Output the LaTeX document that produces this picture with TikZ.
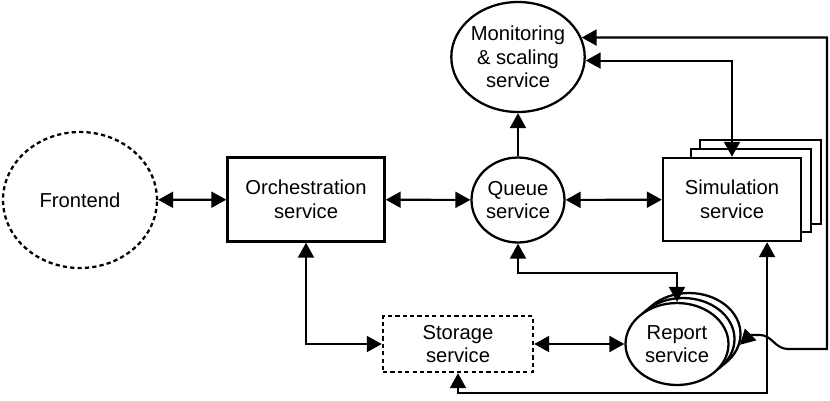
\documentclass[tikz,border=0pt]{standalone}
\usepackage{fontspec}
\setmainfont{Liberation Sans}
\usepackage{tikz}
\usetikzlibrary{shapes.geometric,arrows.meta,positioning,calc}

\begin{document}
\begin{tikzpicture}[x=0.02cm, y=-0.02cm,
    every node/.style={font=\fontsize{11.5}{13.5}\selectfont, align=center, inner sep=0pt},
    servbox/.style={draw, line width=1.4pt, rectangle, fill=white},
    servell/.style={draw, line width=1.3pt, ellipse, fill=white},
    dashline/.style={dash pattern=on 2.4pt off 1.8pt},
    biarrow/.style={line width=1.2pt, {Triangle[length=0.3cm,width=0.32cm]}-{Triangle[length=0.3cm,width=0.32cm]}},
    onearrow/.style={line width=1.2pt, -{Triangle[length=0.3cm,width=0.32cm]}}]
\useasboundingbox (0,0) rectangle (830,400);

\node[servell, dashline, minimum width=3.08cm, minimum height=2.72cm] (front) at (80,200) {Frontend};
\node[servbox, minimum width=3.14cm, minimum height=1.68cm] (orch) at (306,199.5) {Orchestration\\service};
\node[servell, minimum width=1.86cm, minimum height=1.7cm] (queue) at (518,200) {Queue\\service};
\node[servell, minimum width=2.6cm, minimum height=2.2cm] (mon) at (518,57) {Monitoring\\\& scaling\\service};

% simulation stack
\draw[servbox] (700,140) rectangle (821,224);
\draw[servbox] (691,149) rectangle (811,232);
\node[servbox, minimum width=2.76cm, minimum height=1.66cm] (sim) at (732,199.5) {Simulation\\service};

\node[servbox, dashline, minimum width=3.0cm, minimum height=1.12cm] (stor) at (458,344) {Storage\\service};

% report stack
\node[servell, minimum width=2.06cm, minimum height=1.64cm] (rep3) at (689,334) {};
\node[servell, minimum width=2.06cm, minimum height=1.64cm] (rep2) at (683,339) {};
\node[servell, minimum width=2.06cm, minimum height=1.64cm] (rep) at (677,344) {Report\\service};

\draw[biarrow] (front) -- (orch);
\draw[biarrow] (orch) -- (queue);
\draw[biarrow] (queue) -- (sim);
\draw[onearrow] (queue) -- (mon);
\draw[biarrow] (mon.-3) -| (sim.north);
\draw[biarrow] (mon.17) -| (827,349) -- (788,349)
    .. controls (775,349) and (772,335) .. (760,335)
    .. controls (750,335) .. (rep3.-12);
\draw[biarrow] (orch) |- (stor);
\draw[biarrow] (stor) -- (rep);
\draw[biarrow] (queue.south) -- ++(0,29) -| (rep.north);
\draw[biarrow] (stor.south) -- ++(0,20) -| ($(sim.south)!0.5!(sim.south east)$);
\end{tikzpicture}
\end{document}
